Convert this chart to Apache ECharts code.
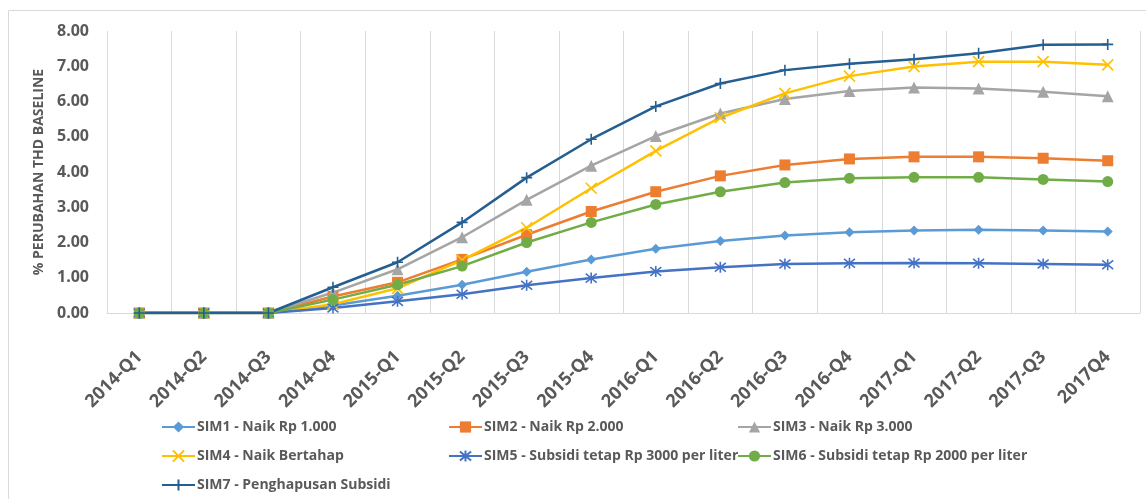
<!DOCTYPE html>
<html>
<head>
<meta charset="utf-8">
<script src="https://cdn.jsdelivr.net/npm/echarts@6/dist/echarts.min.js"></script>
<style>
  html, body { margin: 0; padding: 0; background: #fff; }
  #chart { width: 1146px; height: 499px; }
</style>
</head>
<body>
<div id="chart"></div>
<script>
// Quarterly periods on the horizontal axis
const quarters = ['2014-Q1','2014-Q2','2014-Q3','2014-Q4','2015-Q1','2015-Q2','2015-Q3','2015-Q4',
                  '2016-Q1','2016-Q2','2016-Q3','2016-Q4','2017-Q1','2017-Q2','2017-Q3','2017Q4'];

// Scenario names
const names = [
  'SIM1 - Naik Rp 1.000',
  'SIM2 - Naik Rp 2.000',
  'SIM3 - Naik Rp 3.000',
  'SIM4 - Naik Bertahap',
  'SIM5 - Subsidi tetap Rp 3000 per liter',
  'SIM6 - Subsidi tetap Rp 2000 per liter',
  'SIM7 - Penghapusan Subsidi'
];

// % change relative to baseline, per scenario
const sim1 = [0, 0, 0, 0.21, 0.49, 0.80, 1.17, 1.52, 1.82, 2.04, 2.20, 2.29, 2.34, 2.36, 2.34, 2.31];
const sim2 = [0, 0, 0, 0.47, 0.87, 1.52, 2.22, 2.88, 3.44, 3.89, 4.20, 4.37, 4.43, 4.43, 4.39, 4.32];
const sim3 = [0, 0, 0, 0.58, 1.24, 2.15, 3.21, 4.18, 5.02, 5.66, 6.07, 6.30, 6.40, 6.37, 6.28, 6.15];
const sim4 = [0, 0, 0, 0.25, 0.70, 1.50, 2.42, 3.54, 4.60, 5.54, 6.23, 6.72, 6.99, 7.13, 7.13, 7.04];
const sim5 = [0, 0, 0, 0.14, 0.33, 0.53, 0.79, 0.99, 1.18, 1.30, 1.39, 1.41, 1.42, 1.41, 1.39, 1.37];
const sim6 = [0, 0, 0, 0.38, 0.80, 1.33, 2.00, 2.57, 3.08, 3.44, 3.70, 3.82, 3.85, 3.85, 3.79, 3.73];
const sim7 = [0, 0, 0, 0.73, 1.44, 2.57, 3.84, 4.93, 5.86, 6.51, 6.89, 7.07, 7.20, 7.37, 7.61, 7.62];

// Y axis tick values
const yTicks = [0, 1, 2, 3, 4, 5, 6, 7, 8];

const TEXT = '#595959';
const GRID = '#D9D9D9';
const FONT = '"Open Sans", sans-serif';

const SYM_X = 'path://M0,0L10,10M10,0L0,10';
const SYM_STAR = 'path://M1,1L9,9M9,1L1,9M5,0L5,10';
const SYM_PLUS = 'path://M0,5L10,5M5,0L5,10';

function lineSeries(name, data, color, symbol, size, stroked) {
  return {
    name: name,
    type: 'line',
    data: data,
    symbol: symbol,
    symbolSize: size,
    showAllSymbol: true,
    lineStyle: { color: color, width: 2.5 },
    itemStyle: stroked
      ? { color: color, borderColor: color, borderWidth: 1.6 }
      : { color: color, borderColor: color, borderWidth: 0 },
    emphasis: { disabled: true },
    animation: false
  };
}

const series = [
  lineSeries(names[0], sim1, '#5B9BD5', 'diamond', 10, false),
  lineSeries(names[1], sim2, '#ED7D31', 'rect', 11, false),
  lineSeries(names[2], sim3, '#A5A5A5', 'triangle', 12, false),
  lineSeries(names[3], sim4, '#FFC000', SYM_X, 11, true),
  lineSeries(names[4], sim5, '#4472C4', SYM_STAR, 11, true),
  lineSeries(names[5], sim6, '#70AD47', 'circle', 11, false),
  lineSeries(names[6], sim7, '#255E91', SYM_PLUS, 11, true)
];

function legendColumn(left, items) {
  return {
    orient: 'vertical',
    left: left,
    top: 415,
    height: 120,
    data: items,
    itemWidth: 33,
    itemHeight: 14,
    itemGap: 15,
    selectedMode: false,
    textStyle: { color: TEXT, fontFamily: FONT, fontWeight: 'bold', fontSize: 14, padding: [0, 0, 0, -3] }
  };
}

const chart = echarts.init(document.getElementById('chart'), null, { renderer: 'canvas' });
chart.setOption({
  backgroundColor: '#fff',
  animation: false,
  graphic: [{
    type: 'rect',
    shape: { x: 8.5, y: 10.5, width: 1160, height: 520 },
    style: { fill: 'none', stroke: GRID, lineWidth: 1 },
    silent: true,
    z: -10
  }],
  grid: { left: 107, right: 6, top: 31, bottom: 186, containLabel: false },
  legend: [
    legendColumn(156, [names[0], names[3], names[6]]),
    legendColumn(443, [names[1], names[4]]),
    legendColumn(732, [names[2], names[5]])
  ],
  xAxis: {
    type: 'category',
    data: quarters,
    boundaryGap: true,
    axisLine: { show: true, lineStyle: { color: GRID, width: 1 } },
    axisTick: { show: false },
    splitLine: { show: true, lineStyle: { color: GRID, width: 1 } },
    axisLabel: {
      rotate: 45,
      interval: 0,
      margin: 41,
      color: TEXT,
      fontFamily: FONT,
      fontWeight: 'bold',
      fontSize: 18
    }
  },
  yAxis: {
    type: 'value',
    min: yTicks[0],
    max: yTicks[yTicks.length - 1],
    interval: 1,
    name: '% PERUBAHAN THD BASELINE',
    nameLocation: 'middle',
    nameRotate: 90,
    nameGap: 56,
    nameTextStyle: { color: TEXT, fontFamily: FONT, fontWeight: 'bold', fontSize: 14 },
    axisLine: { show: false },
    axisTick: { show: false },
    splitLine: { show: false },
    axisLabel: {
      margin: 18,
      color: TEXT,
      fontFamily: FONT,
      fontWeight: 'bold',
      fontSize: 16,
      formatter: v => v.toFixed(2)
    }
  },
  series: series
});
</script>
</body>
</html>
